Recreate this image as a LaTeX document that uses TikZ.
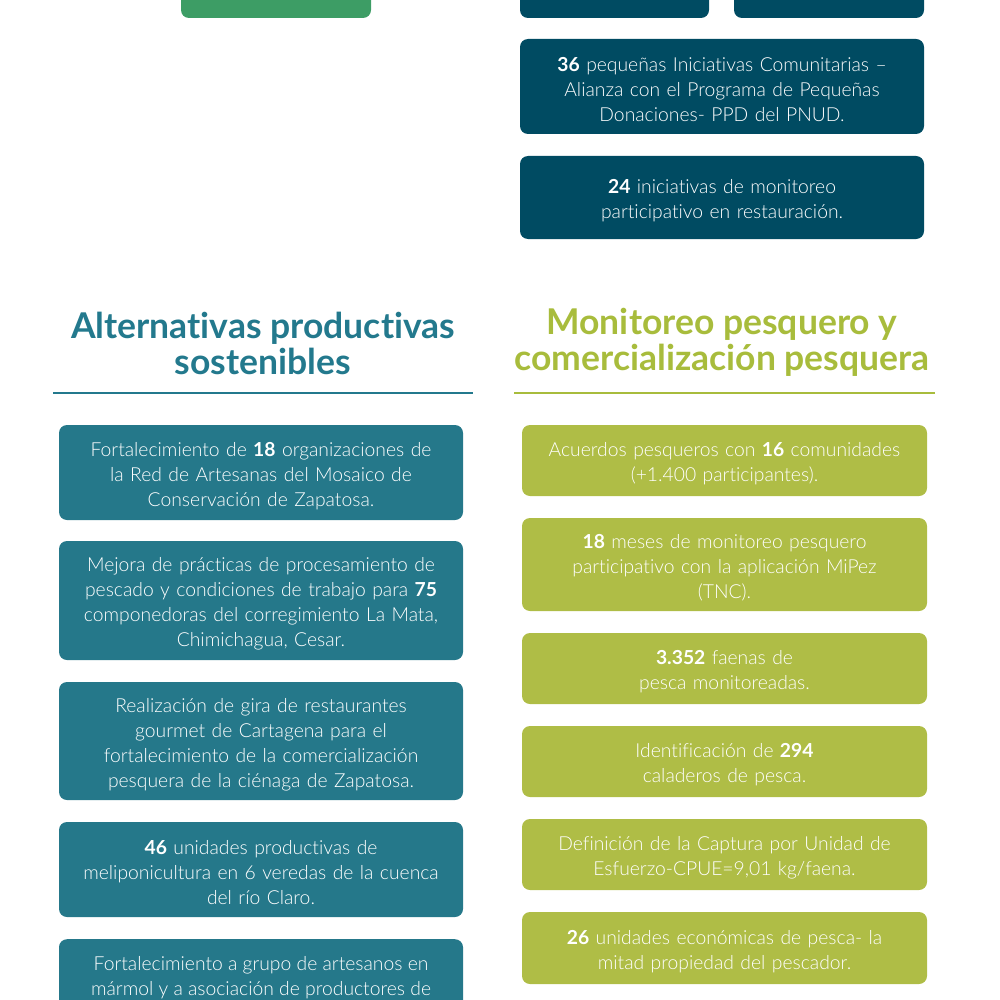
\documentclass[tikz,border=0pt]{standalone}
\usepackage{fontspec}
\setmainfont{Lato}[Ligatures=NoCommon, UprightFont=* Light, BoldFont=* Bold]
\definecolor{navy}{HTML}{004B62}
\definecolor{tealbox}{HTML}{25788A}
\definecolor{tealhead}{HTML}{23798D}
\definecolor{greenbox}{HTML}{3D9D65}
\definecolor{olivebox}{HTML}{AFBD46}
\definecolor{olivehead}{HTML}{A8BC3C}
\begin{document}
\begin{tikzpicture}[x=1pt,y=-1pt,
        card/.style={rectangle, rounded corners=8pt, text=white, align=center,
            inner sep=0pt, font=\fontsize{19.3}{25}\selectfont,
            execute at begin node={\rule{0pt}{21pt}}},
        navycard/.style={card, fill=navy, minimum width=404pt, text width=395pt},
        altcard/.style={card, fill=tealbox, minimum width=404pt, text width=395pt},
        pescacard/.style={card, fill=olivebox, minimum width=405pt, text width=395pt},
        heading/.style={align=center, font=\fontsize{35.5}{36}\selectfont\bfseries}
    ]
    \useasboundingbox (0,0) rectangle (1000,1000);
    \clip (0,0) rectangle (1000,1000);

    % top boxes (cut by the page)
    \node[card, fill=greenbox, minimum width=190pt, minimum height=76pt] (top1) at (276,-20) {};
    \node[card, fill=navy, minimum width=189pt, minimum height=76pt] (top2) at (614.5,-20) {};
    \node[card, fill=navy, minimum width=190pt, minimum height=76pt] (top3) at (829,-20) {};

    \node[navycard, minimum height=95pt] (ini1) at (722,86.5)
        {\textbf{36} pequeñas Iniciativas Comunitarias –\\Alianza con el Programa de Pequeñas\\Donaciones- PPD del PNUD.};
    \node[navycard, minimum height=83pt] (ini2) at (722,197.5)
        {\textbf{24} iniciativas de monitoreo\\participativo en restauración.};

    % headings
    \node[heading, text=tealhead] (althead) at (263,343) {Alternativas productivas\\sostenibles};
    \node[heading, text=olivehead] (pescahead) at (722,342) {Monitoreo pesquero y\\comercialización pesquera};
    \draw[tealhead, line width=2.5pt] (53,393) -- (473,393);
    \draw[olivehead, line width=2.5pt] (514,393) -- (935,393);

    % left column
    \node[altcard, minimum height=95pt] (alt1) at (261,472.5)
        {Fortalecimiento de \textbf{18} organizaciones de\\la Red de Artesanas del Mosaico de\\Conservación de Zapatosa.};
    \node[altcard, minimum height=119pt] (alt2) at (261,600.5)
        {Mejora de prácticas de procesamiento de\\pescado y condiciones de trabajo para \textbf{75}\\componedoras del corregimiento La Mata,\\Chimichagua, Cesar.};
    \node[altcard, minimum height=118pt] (alt3) at (261,741)
        {Realización de gira de restaurantes\\gourmet de Cartagena para el\\fortalecimiento de la comercialización\\pesquera de la ciénaga de Zapatosa.};
    \node[altcard, minimum height=95pt] (alt4) at (261,869.5)
        {\textbf{46} unidades productivas de\\meliponicultura en 6 veredas de la cuenca\\del río Claro.};
    \node[altcard, minimum height=120pt, anchor=north] (alt5) at (261,939) {};
    \node[card, anchor=north, yshift=-17pt] (alt5txt) at (alt5.north)
        {Fortalecimiento a grupo de artesanos en\\mármol y a asociación de productores de};

    % right column
    \node[pescacard, minimum height=71pt] (pes1) at (724.5,460.5)
        {Acuerdos pesqueros con \textbf{16} comunidades\\(+1.400 participantes).};
    \node[pescacard, minimum height=93pt] (pes2) at (724.5,564.5)
        {\textbf{18} meses de monitoreo pesquero\\participativo con la aplicación MiPez\\(TNC).};
    \node[pescacard, minimum height=71pt] (pes3) at (724.5,668.5)
        {\textbf{3.352} faenas de\\pesca monitoreadas.};
    \node[pescacard, minimum height=71pt] (pes4) at (724.5,761.5)
        {Identificación de \textbf{294}\\caladeros de pesca.};
    \node[pescacard, minimum height=71pt] (pes5) at (724.5,854.5)
        {Definición de la Captura por Unidad de\\Esfuerzo-CPUE=9,01 kg/faena.};
    \node[pescacard, minimum height=72pt] (pes6) at (724.5,948)
        {\textbf{26} unidades económicas de pesca- la\\mitad propiedad del pescador.};
\end{tikzpicture}
\end{document}
